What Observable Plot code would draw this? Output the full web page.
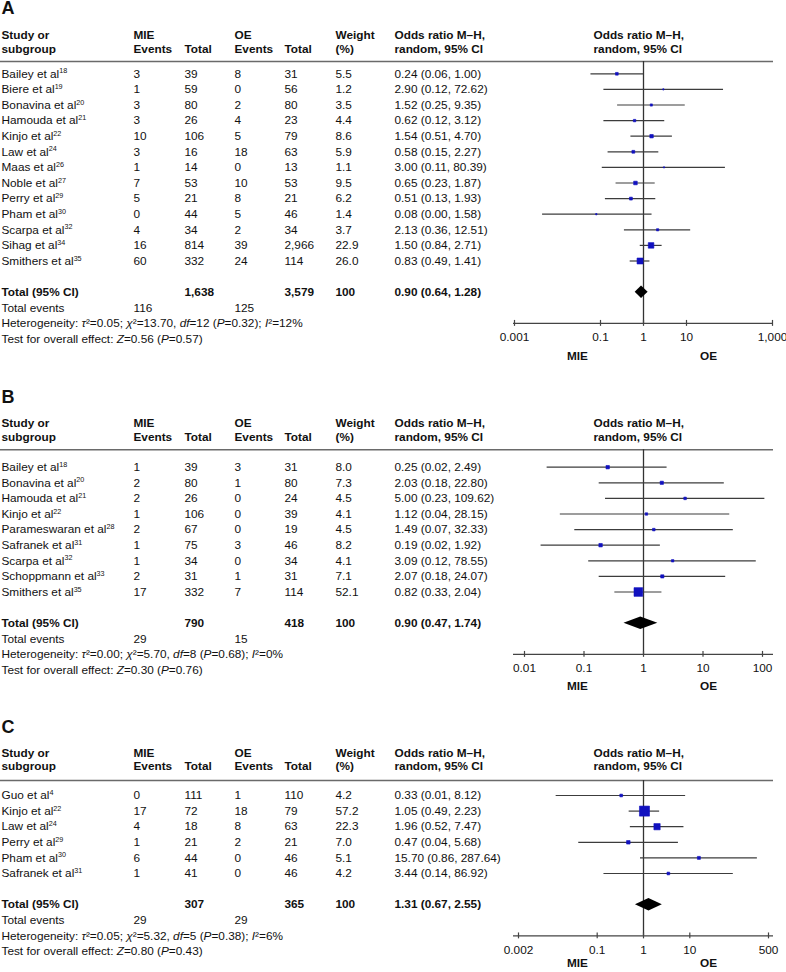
<!DOCTYPE html>
<html><head><meta charset="utf-8">
<script src="https://cdn.jsdelivr.net/npm/d3@7"></script>
<script src="https://cdn.jsdelivr.net/npm/@observablehq/plot@0.6"></script>
<style>
body{margin:0;background:#fff;}
#wrap{position:relative;width:786px;height:972px;background:#fff;}
.panel{position:absolute;left:0;}
</style></head><body><div id="wrap"></div>
<script>
// ---------- Panel A data ----------
const studiesA = ["Bailey et al","Biere et al","Bonavina et al","Hamouda et al","Kinjo et al","Law et al","Maas et al","Noble et al","Perry et al","Pham et al","Scarpa et al","Sihag et al","Smithers et al"];
const refsA = [18,19,20,21,22,24,26,27,29,30,32,34,35];
const mieEventsA = [3,1,3,3,10,3,1,7,5,0,4,16,60];
const mieTotalA = [39,59,80,26,106,16,14,53,21,44,34,814,332];
const oeEventsA = [8,0,2,4,5,18,0,10,8,5,2,39,24];
const oeTotalA = [31,56,80,23,79,63,13,53,21,46,34,2966,114];
const weightA = [5.5,1.2,3.5,4.4,8.6,5.9,1.1,9.5,6.2,1.4,3.7,22.9,26.0];
const orA = [0.24,2.90,1.52,0.62,1.54,0.58,3.00,0.65,0.51,0.08,2.13,1.50,0.83];
const loA = [0.06,0.12,0.25,0.12,0.51,0.15,0.11,0.23,0.13,0.0045,0.36,0.84,0.49];
const hiA = [1.00,72.62,9.35,3.12,4.70,2.27,80.39,1.87,1.93,1.58,12.51,2.71,1.41];
const totalA = {mieTotal:1638, oeTotal:3579, weight:100, or:0.90, lo:0.64, hi:1.28, mieEvents:116, oeEvents:125};
const ticksA = [0.001,0.1,1,10,1000];

// ---------- Panel B data ----------
const studiesB = ["Bailey et al","Bonavina et al","Hamouda et al","Kinjo et al","Parameswaran et al","Safranek et al","Scarpa et al","Schoppmann et al","Smithers et al"];
const refsB = [18,20,21,22,28,31,32,33,35];
const mieEventsB = [1,2,2,1,2,1,1,2,17];
const mieTotalB = [39,80,26,106,67,75,34,31,332];
const oeEventsB = [3,1,0,0,0,3,0,1,7];
const oeTotalB = [31,80,24,39,19,46,34,31,114];
const weightB = [8.0,7.3,4.5,4.1,4.5,8.2,4.1,7.1,52.1];
const orB = [0.25,2.03,5.00,1.12,1.49,0.19,3.09,2.07,0.82];
const loB = [0.024,0.18,0.23,0.04,0.07,0.019,0.12,0.18,0.33];
const hiB = [2.49,22.80,109.62,28.15,32.33,1.92,78.55,24.07,2.04];
const totalB = {mieTotal:790, oeTotal:418, weight:100, or:0.90, lo:0.47, hi:1.74, mieEvents:29, oeEvents:15};
const ticksB = [0.01,0.1,1,10,100];

// ---------- Panel C data ----------
const studiesC = ["Guo et al","Kinjo et al","Law et al","Perry et al","Pham et al","Safranek et al"];
const refsC = [4,22,24,29,30,31];
const mieEventsC = [0,17,4,1,6,1];
const mieTotalC = [111,72,18,21,44,41];
const oeEventsC = [1,18,8,2,0,0];
const oeTotalC = [110,79,63,21,46,46];
const weightC = [4.2,57.2,22.3,7.0,5.1,4.2];
const orC = [0.33,1.05,1.96,0.47,15.70,3.44];
const loC = [0.013,0.49,0.52,0.04,0.86,0.14];
const hiC = [8.12,2.23,7.47,5.68,287.64,86.92];
const totalC = {mieTotal:307, oeTotal:365, weight:100, or:1.31, lo:0.67, hi:2.55, mieEvents:29, oeEvents:29};
const ticksC = [0.002,0.1,1,10,500];

// ---------- heterogeneity / overall effect (A, B, C) ----------
const tau2 = ["0.05","0.00","0.05"];
const chi2 = ["13.70","5.70","5.32"];
const dfs = [12,8,5];
const hetP = ["0.32","0.68","0.38"];
const i2 = [12,0,6];
const zVal = ["0.56","0.30","0.80"];
const zP = ["0.57","0.76","0.43"];

// ---------- header labels ----------
const headLine1 = ["Study or","MIE","","OE","","Weight","Odds ratio M–H,"];
const headLine2 = ["subgroup","Events","Total","Events","Total","(%)","random, 95% CI"];

// ---------- layout (not data) ----------
const W = 786, ML = 513, MR = 13, ROW = 15.6, FS = 11.8;
const FONT = '"Liberation Sans", Arial, Helvetica, sans-serif';
const colX = [1, 133, 184, 234, 284, 335, 394];
const BLUE = "#1111bf";

const panels = [
  {letter:"A", top:0, height:370, row0:73.3, hdr:[-2.5,-1.6,-0.79], letterRow:-4.19, inset:1, rMax:6.6, labDy:33,
   studies:studiesA, refs:refsA, mieE:mieEventsA, mieT:mieTotalA, oeE:oeEventsA, oeT:oeTotalA, w:weightA, or:orA, lo:loA, hi:hiA, tot:totalA, ticks:ticksA},
  {letter:"B", top:370, height:330, row0:96.7, hdr:[-2.82,-1.92,-1.12], letterRow:-4.5, inset:11, rMax:6.8, labDy:32,
   studies:studiesB, refs:refsB, mieE:mieEventsB, mieT:mieTotalB, oeE:oeEventsB, oeT:oeTotalB, w:weightB, or:orB, lo:loB, hi:hiB, tot:totalB, ticks:ticksB},
  {letter:"C", top:700, height:272, row0:95, hdr:[-2.74,-1.86,-0.96], letterRow:-4.39, inset:5, rMax:7.5, labDy:27.5,
   studies:studiesC, refs:refsC, mieE:mieEventsC, mieT:mieTotalC, oeE:oeEventsC, oeT:oeTotalC, w:weightC, or:orC, lo:loC, hi:hiC, tot:totalC, ticks:ticksC}
];

const fmtN = v => (v === "" || v == null) ? "" : d3.format(",")(v);
const ciText = (o,l,h) => `${o.toFixed(2)} (${l.toFixed(2)}, ${h.toFixed(2)})`;
const tickFmt = v => v >= 1 ? d3.format(",")(v) : String(v);

function richify(svg){
  const NS = "http://www.w3.org/2000/svg";
  svg.querySelectorAll("text").forEach(t => {
    const targets = t.querySelector("tspan") ? [...t.querySelectorAll("tspan")] : [t];
    targets.forEach(el => {
      const s = el.textContent;
      if (!/[_^]/.test(s)) return;
      el.textContent = "";
      let shifted = false;
      s.split(/(_[^_]+_|\^[^^]+\^)/).forEach(p => {
        if (!p) return;
        const ts = document.createElementNS(NS, "tspan");
        if (p[0] === "_") {
          ts.textContent = p.slice(1,-1); ts.setAttribute("font-style","italic");
          if (shifted) { ts.setAttribute("dy","4.2"); shifted = false; }
        } else if (p[0] === "^") {
          ts.textContent = p.slice(1,-1); ts.setAttribute("font-size","7.2"); ts.setAttribute("dy","-4.2"); shifted = true;
        } else {
          ts.textContent = p;
          if (shifted) { ts.setAttribute("dy","4.2"); shifted = false; }
        }
        el.appendChild(ts);
      });
    });
  });
}

panels.forEach((P, k) => {
  const n = P.studies.length;
  const studyRows = P.studies.map((s,i) => ({
    row:i, or:P.or[i], lo:P.lo[i], hi:P.hi[i], w:P.w[i],
    cells:[`${s}^${P.refs[i]}^`, fmtN(P.mieE[i]), fmtN(P.mieT[i]), fmtN(P.oeE[i]), fmtN(P.oeT[i]), P.w[i].toFixed(1), ciText(P.or[i],P.lo[i],P.hi[i])]
  }));
  const T = P.tot;
  const totalRow = {row:n+1, cells:["Total (95% CI)", "", fmtN(T.mieTotal), "", fmtN(T.oeTotal), String(T.weight), ciText(T.or,T.lo,T.hi)]};
  const evRow = {row:n+2, cells:["Total events", fmtN(T.mieEvents), "", fmtN(T.oeEvents), "", "", ""]};
  const hetRow = {row:n+3, cells:[`Heterogeneity: _τ_²=${tau2[k]}; _χ_²=${chi2[k]}, _df_=${dfs[k]} (_P_=${hetP[k]}); _I_²=${i2[k]}%`,"","","","","",""]};
  const testRow = {row:n+4, cells:[`Test for overall effect: _Z_=${zVal[k]} (_P_=${zP[k]})`,"","","","","",""]};
  const normalRows = [...studyRows, evRow, hetRow, testRow];
  const headRows = [{row:P.hdr[0], cells:headLine1}, {row:P.hdr[1], cells:headLine2}];
  const axisRow = n + 3;
  const ruleRow = P.hdr[2];

  const textCol = (rows, c, bold) => Plot.text(rows, {
    y:"row", text: d => d.cells[c], frameAnchor:"left", dx: colX[c] - ML, textAnchor:"start",
    fontSize: FS, fontWeight: bold ? "bold" : "normal", fill:"#111"
  });

  const diamond = [
    {y: totalRow.row - 0.4, x1: T.or, x2: T.or},
    {y: totalRow.row, x1: T.lo, x2: T.hi},
    {y: totalRow.row + 0.4, x1: T.or, x2: T.or}
  ];

  const marks = [
    Plot.text([{row:P.letterRow, t:P.letter}], {y:"row", text:"t", frameAnchor:"left", dx: 1 - ML, textAnchor:"start", fontSize:18, fontWeight:"bold", fill:"#111"}),
    Plot.ruleY([ruleRow], {y: d => d, insetLeft: -ML, stroke:"#6a6a6a", strokeWidth:1.4}),
    ...colX.map((_,c) => textCol(headRows, c, true)),
    ...colX.map((_,c) => textCol(normalRows, c, false)),
    ...colX.map((_,c) => textCol([totalRow], c, true)),
    // forest header
    Plot.text([{row:P.hdr[0], t:headLine1[6]}, {row:P.hdr[1], t:headLine2[6]}], {y:"row", text:"t", dx:-50, textAnchor:"start", fontSize:FS, fontWeight:"bold", fill:"#111"}),
    // vertical null line
    Plot.ruleX([1], {x: d => d, y1: ruleRow, y2: axisRow, stroke:"#333", strokeWidth:1.3}),
    // CI lines
    Plot.ruleY(studyRows, {y:"row", x1:"lo", x2:"hi", stroke:"#3c3c3c", strokeWidth:1.2}),
    // weight squares
    Plot.dot(studyRows, {x:"or", y:"row", r:"w", symbol:"square", fill:BLUE, stroke:BLUE, strokeWidth:0.6}),
    // pooled diamond
    Plot.areaX(diamond, {y:"y", x1:"x1", x2:"x2", fill:"#000"}),
    // axis
    Plot.ruleY([axisRow], {y: d => d, stroke:"#444", strokeWidth:1.3}),
    Plot.ruleX(P.ticks, {x: d => d, y1: axisRow - 0.19, y2: axisRow + 0.19, stroke:"#444", strokeWidth:1.2}),
    Plot.text(P.ticks, {x: d => d, y: () => axisRow, dy:14, text: tickFmt, fontSize:FS, fill:"#111"}),
    Plot.text([{row:axisRow, t:"MIE"}], {y:"row", text:"t", dy:P.labDy, dx:-66, fontSize:FS, fontWeight:"bold", fill:"#111"}),
    Plot.text([{row:axisRow, t:"OE"}], {y:"row", text:"t", dy:P.labDy, dx:65, fontSize:FS, fontWeight:"bold", fill:"#111"})
  ];

  const svg = Plot.plot({
    width: W, height: P.height,
    marginLeft: ML, marginRight: MR, marginTop: 0, marginBottom: 0,
    x: {type:"log", domain:[P.ticks[0], P.ticks[P.ticks.length-1]], inset:P.inset, axis:null},
    y: {type:"linear", domain:[0,1], range:[P.row0, P.row0 + ROW], axis:null},
    r: {type:"sqrt", domain:[0,100], range:[0,P.rMax]},
    style: {fontFamily: FONT, fontSize: FS + "px", background:"#fff", color:"#111", overflow:"visible"},
    marks
  });
  richify(svg);
  svg.classList.add("panel");
  svg.style.top = P.top + "px";
  svg.style.position = "absolute";
  svg.style.left = "0px";
  document.getElementById("wrap").appendChild(svg);
});
</script>
</body></html>
